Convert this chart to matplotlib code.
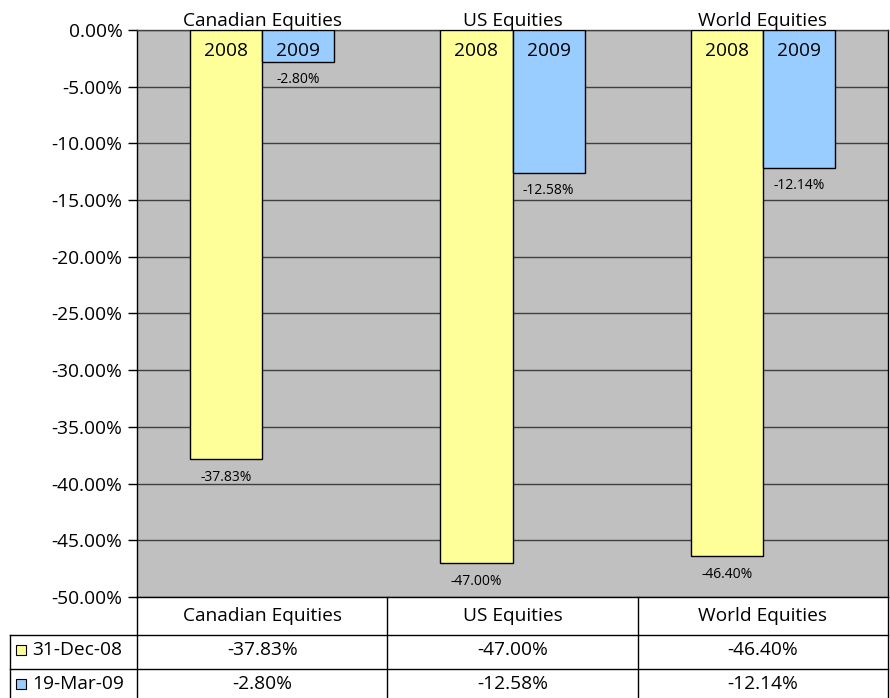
import matplotlib
matplotlib.use("Agg")
import matplotlib.pyplot as plt
from matplotlib.lines import Line2D
from matplotlib.patches import Rectangle
import numpy as np

categories = ["Canadian Equities", "US Equities", "World Equities"]
series_names = ["31-Dec-08", "19-Mar-09"]
bar_labels = ["2008", "2009"]
dec08 = [-37.83, -47.00, -46.40]
mar09 = [-2.80, -12.58, -12.14]
y_ticks = [0, -5, -10, -15, -20, -25, -30, -35, -40, -45, -50]

colors = ["#FFFF99", "#99CCFF"]
plt.rcParams['font.family'] = ['Open Sans', 'DejaVu Sans']
FS = 13.8
FS_SMALL = 10


def main():
    fig = plt.figure(figsize=(8.9, 6.98), dpi=100)
    ax = fig.add_axes([137 / 890, 1 - 597 / 698, 751 / 890, 567 / 698])
    ax.set_facecolor("#C0C0C0")

    x = np.arange(len(categories))
    w = 0.288
    series = [dec08, mar09]
    offsets = [-w / 2, w / 2]

    for vals, off, col, lab in zip(series, offsets, colors, bar_labels):
        bars = ax.bar(x + off, vals, width=w, color=col, edgecolor="black",
                      linewidth=1, zorder=3)
        for b, v in zip(bars, vals):
            cx = b.get_x() + b.get_width() / 2
            ax.annotate(lab, (cx, 0), xytext=(0, -15), textcoords="offset points",
                        ha="center", va="center", fontsize=FS, zorder=4)
            ax.annotate(f"{v:.2f}%", (cx, v), xytext=(0, -13),
                        textcoords="offset points", ha="center", va="center",
                        fontsize=FS_SMALL, zorder=4)

    ax.set_xlim(-0.5, len(categories) - 0.5)
    ax.set_ylim(-50, 0)
    ax.set_yticks(y_ticks)
    ax.set_yticklabels([f"{t:.2f}%" for t in y_ticks], fontsize=FS)
    ax.tick_params(axis="y", direction="out", length=6.5, width=1, pad=4)
    ax.set_xticks([])
    ax.yaxis.grid(True, color="#404040", linewidth=1, zorder=0)
    ax.set_axisbelow(True)
    for s in ax.spines.values():
        s.set_color("black")
        s.set_linewidth(1)
    ax.spines["top"].set_color("#404040")

    # category names above plot
    for i, c in enumerate(categories):
        ax.text(i, 1.0, c, transform=ax.get_xaxis_transform(), ha="center",
                va="bottom", fontsize=FS)

    # data table under plot
    tr = ax.transAxes
    px_h = 567.0
    px_w = 751.0
    row_y = [0, -38 / px_h, -72 / px_h, -106 / px_h]
    left = -127 / px_w
    lk = dict(transform=tr, color="black", linewidth=1, clip_on=False)
    for xc in [0, 1 / 3, 2 / 3, 1]:
        ax.add_line(Line2D([xc, xc], [0, row_y[3]], **lk))
    ax.add_line(Line2D([left, left], [row_y[1], row_y[3]], **lk))
    for yr in row_y[1:3]:
        ax.add_line(Line2D([left, 1], [yr, yr], **lk))

    for i, c in enumerate(categories):
        xc = (i + 0.5) / 3
        ax.text(xc, (row_y[0] + row_y[1]) / 2, c, transform=tr, ha="center",
                va="center", fontsize=FS)
        for r, vals in enumerate(series):
            ax.text(xc, (row_y[r + 1] + row_y[r + 2]) / 2 + 0.003,
                    f"{vals[i]:.2f}%", transform=tr, ha="center", va="center",
                    fontsize=FS)

    for r, (name, col) in enumerate(zip(series_names, colors)):
        yc = (row_y[r + 1] + row_y[r + 2]) / 2 + 0.003
        ax.add_patch(Rectangle((left + 6 / px_w, yc - 5 / px_h), 10 / px_w,
                               10 / px_h, transform=tr, facecolor=col,
                               edgecolor="black", linewidth=0.8, clip_on=False))
        ax.text(left + 22 / px_w, yc, name, transform=tr, ha="left",
                va="center", fontsize=FS)

    fig.savefig("out.png", dpi=100)


if __name__ == "__main__":
    main()
